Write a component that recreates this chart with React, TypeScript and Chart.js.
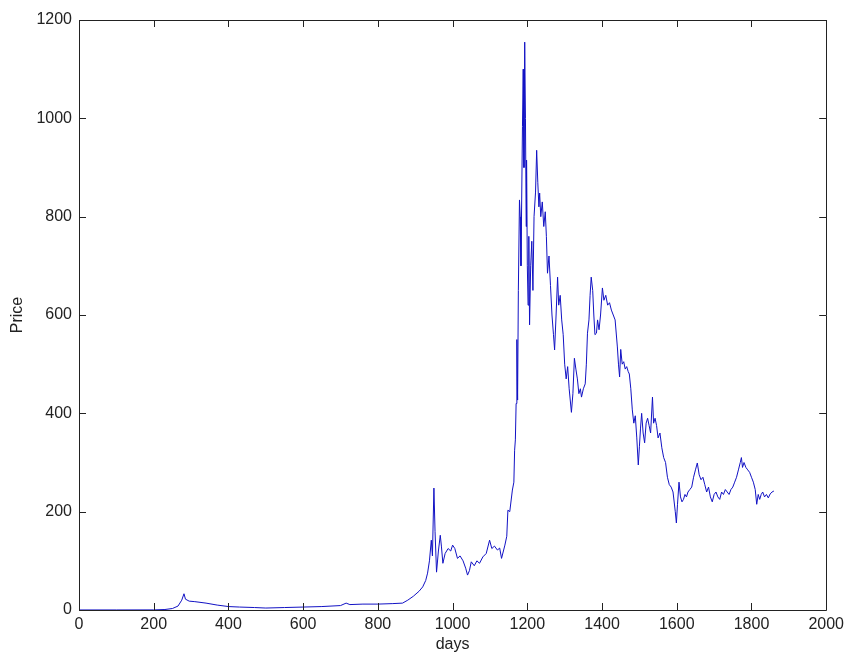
import React, { useEffect, useRef } from "react";
import { Chart, registerables } from "chart.js";

Chart.register(...registerables);

const days: number[] = [
  0, 100, 200, 230, 250, 265, 275, 281, 285, 295, 310, 340, 370, 400, 430, 470, 500, 550, 600, 650,
  700, 715, 725, 760, 800, 840, 866, 880, 895, 910, 920, 928, 933, 938, 943, 946, 950, 953, 957, 962,
  967, 970, 974, 980, 988, 995, 1000, 1006, 1013, 1020, 1028, 1035, 1040, 1045, 1050, 1058, 1065, 1072, 1081, 1090,
  1099, 1105, 1112, 1120, 1126, 1131, 1136, 1140, 1145, 1148, 1153, 1160, 1164, 1166, 1168, 1170, 1172, 1174, 1176, 1179,
  1181, 1183, 1185, 1187, 1189, 1191, 1193, 1195, 1197, 1198, 1200, 1202, 1204, 1206, 1209, 1212, 1215, 1218, 1222, 1225,
  1228, 1231, 1233, 1236, 1240, 1244, 1248, 1251, 1254, 1258, 1262, 1266, 1270, 1273, 1277, 1281, 1284, 1288, 1292, 1296,
  1300, 1304, 1308, 1312, 1318, 1322, 1326, 1330, 1334, 1338, 1342, 1345, 1350, 1355, 1358, 1361, 1365, 1368, 1371, 1375,
  1378, 1381, 1385, 1388, 1392, 1396, 1401, 1405, 1410, 1415, 1420, 1425, 1430, 1435, 1441, 1444, 1447, 1450, 1454, 1458,
  1462, 1466, 1470, 1473, 1477, 1481, 1485, 1489, 1493, 1497, 1500, 1503, 1506, 1510, 1514, 1518, 1522, 1526, 1530, 1535,
  1538, 1542, 1546, 1550, 1555, 1560, 1565, 1570, 1575, 1580, 1585, 1590, 1596, 1599, 1602, 1606, 1610, 1614, 1618, 1622,
  1626, 1630, 1635, 1640, 1645, 1650, 1655, 1660, 1665, 1670, 1675, 1680, 1685, 1690, 1695, 1700, 1705, 1710, 1715, 1720,
  1725, 1730, 1735, 1740, 1745, 1750, 1755, 1760, 1765, 1770, 1773, 1776, 1780, 1785, 1790, 1795, 1800, 1805, 1810, 1814,
  1818, 1822, 1826, 1830, 1835, 1840, 1845, 1850, 1855, 1860,
];

const prices: number[] = [
  0.1, 0.1, 0.2, 1, 3, 8, 20, 33, 22, 18, 17, 14, 10, 7, 6, 5, 4, 5, 6, 7,
  9, 14, 11, 12, 12, 13, 14, 20, 28, 38, 47, 60, 75, 100, 142, 110, 248, 160, 77, 120,
  152, 130, 95, 115, 125, 120, 132, 125, 105, 110, 100, 85, 71, 80, 98, 90, 100, 95, 108, 115,
  142, 125, 130, 122, 126, 105, 120, 132, 150, 203, 200, 244, 260, 325, 346, 420, 550, 427, 650, 834,
  800, 700, 840, 983, 1100, 900, 1155, 1000, 780, 915, 700, 620, 760, 580, 700, 750, 650, 800, 850, 935,
  870, 820, 848, 800, 830, 780, 810, 760, 685, 720, 660, 600, 560, 529, 600, 677, 620, 640, 590, 560,
  500, 470, 495, 450, 402, 440, 512, 490, 470, 440, 450, 433, 450, 460, 500, 563, 590, 640, 677, 650,
  600, 560, 563, 590, 570, 600, 655, 630, 640, 620, 625, 610, 600, 590, 535, 500, 474, 530, 500, 505,
  490, 495, 485, 480, 450, 407, 380, 395, 350, 295, 332, 370, 400, 360, 340, 380, 390, 375, 360, 433,
  380, 390, 375, 350, 360, 330, 310, 300, 270, 255, 250, 240, 200, 177, 215, 260, 230, 220, 225, 235,
  230, 240, 245, 250, 270, 285, 299, 275, 265, 270, 255, 240, 250, 230, 220, 235, 240, 230, 225, 240,
  235, 245, 240, 235, 245, 250, 260, 270, 285, 300, 310, 290, 300, 290, 285, 280, 270, 260, 245, 215,
  235, 225, 235, 240, 230, 235, 228, 236, 240, 242,
];

const xTicks: number[] = [0, 200, 400, 600, 800, 1000, 1200, 1400, 1600, 1800, 2000];
const yTicks: number[] = [0, 200, 400, 600, 800, 1000, 1200];

const FONT = "'Liberation Sans', Arial, sans-serif";

const boxPlugin = {
  id: "matlabBox",
  afterDraw(chart: any) {
    const { ctx, chartArea } = chart;
    const { left, right, top, bottom } = chartArea;
    const xs = chart.scales.x;
    const ys = chart.scales.y;
    const tl = 7;
    ctx.save();
    ctx.strokeStyle = "#222";
    ctx.lineWidth = 1;
    ctx.beginPath();
    ctx.rect(Math.round(left) + 0.5, Math.round(top) + 0.5, Math.round(right - left), Math.round(bottom - top));
    xTicks.forEach((t) => {
      const px = Math.round(xs.getPixelForValue(t)) + 0.5;
      ctx.moveTo(px, bottom);
      ctx.lineTo(px, bottom - tl);
      ctx.moveTo(px, top);
      ctx.lineTo(px, top + tl);
    });
    yTicks.forEach((t) => {
      const py = Math.round(ys.getPixelForValue(t)) + 0.5;
      ctx.moveTo(left, py);
      ctx.lineTo(left + tl, py);
      ctx.moveTo(right, py);
      ctx.lineTo(right - tl, py);
    });
    ctx.stroke();
    ctx.restore();
  },
};

export default function App() {
  const ref = useRef<HTMLCanvasElement | null>(null);
  useEffect(() => {
    if (!ref.current) return;
    const chart = new Chart(ref.current, {
      type: "line",
      data: {
        datasets: [
          {
            label: "Price",
            data: days.map((d, i) => ({ x: d, y: prices[i] })),
            borderColor: "#1212c4",
            borderWidth: 1,
            pointRadius: 0,
            tension: 0,
            fill: false,
          },
        ],
      },
      options: {
        animation: false,
        responsive: true,
        maintainAspectRatio: false,
        layout: { padding: { top: 20, right: 22, left: 0, bottom: 0 } },
        plugins: { legend: { display: false }, tooltip: { enabled: false } },
        scales: {
          x: {
            type: "linear",
            min: 0,
            max: 2000,
            afterBuildTicks: (s: any) => {
              s.ticks = xTicks.map((v) => ({ value: v }));
            },
            afterFit: (s: any) => {
              s.height = 44;
            },
            grid: { display: false, drawTicks: false },
            border: { display: false },
            ticks: {
              padding: 5,
              color: "#222",
              font: { family: FONT, size: 16 },
              maxRotation: 0,
              autoSkip: false,
              callback: (v: any) => String(v),
            },
            title: {
              display: true,
              text: "days",
              color: "#222",
              font: { family: FONT, size: 16 },
              padding: { top: 0, bottom: 0 },
            },
          },
          y: {
            type: "linear",
            min: 0,
            max: 1200,
            afterBuildTicks: (s: any) => {
              s.ticks = yTicks.map((v) => ({ value: v }));
            },
            afterFit: (s: any) => {
              s.width = 79;
            },
            grid: { display: false, drawTicks: false },
            border: { display: false },
            ticks: {
              padding: 7,
              color: "#222",
              font: { family: FONT, size: 16 },
              autoSkip: false,
              callback: (v: any) => String(v),
            },
            title: {
              display: true,
              text: "Price",
              color: "#222",
              font: { family: FONT, size: 16 },
              padding: { top: 8, bottom: 8 },
            },
          },
        },
      },
      plugins: [boxPlugin],
    });
    return () => chart.destroy();
  }, []);
  return (
    <div style={{ position: "fixed", left: 0, top: 0, width: 849, height: 654, background: "#fff" }}>
      <canvas ref={ref} />
    </div>
  );
}
